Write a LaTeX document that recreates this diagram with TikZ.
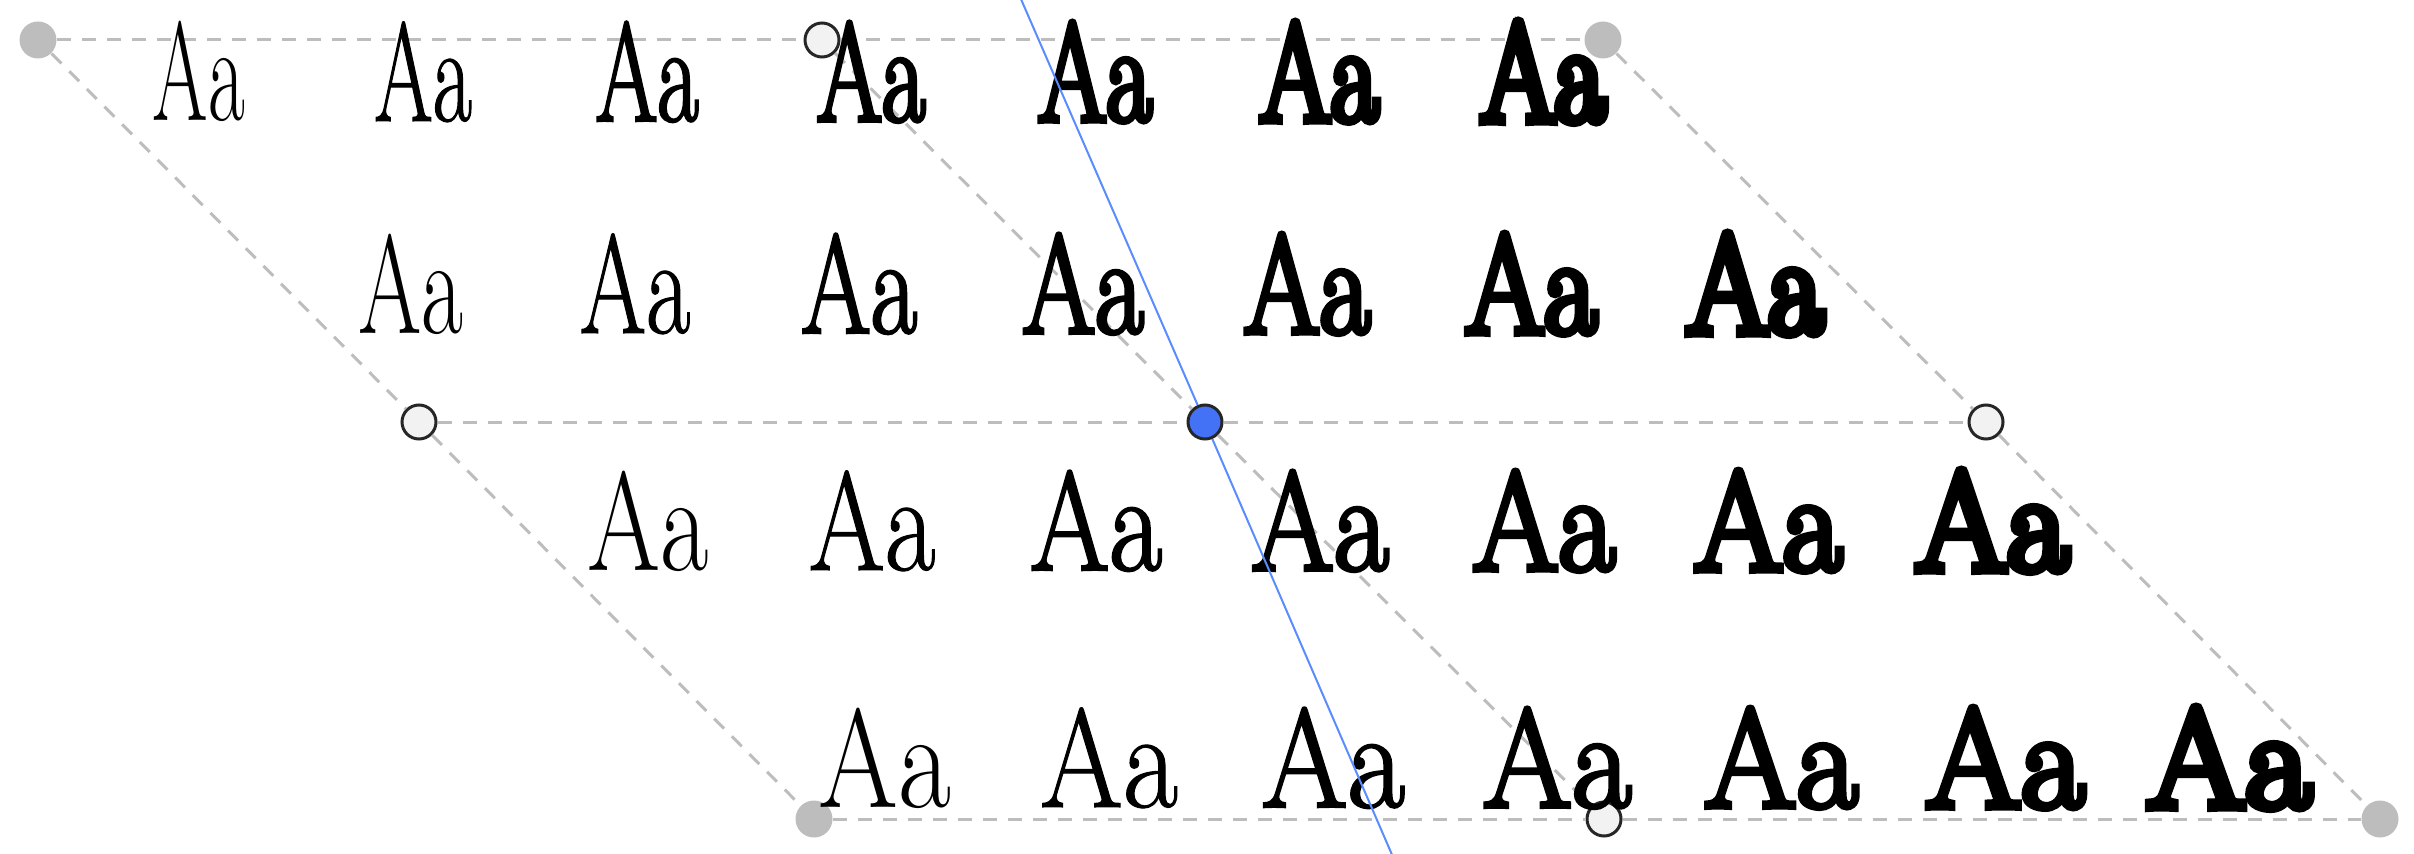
\documentclass[tikz,border=0pt]{standalone}
\usepackage{fontspec}
\usepackage{tikz}
\setmainfont{Latin Modern Roman}

\definecolor{guidegray}{HTML}{BDBDBD}
\definecolor{axisblue}{HTML}{5B8CFF}
\definecolor{dotblue}{HTML}{4472F7}

\begin{document}
\begin{tikzpicture}[x=0.1mm, y=-0.1mm,
    guide/.style={draw=guidegray, line width=0.3mm, dash pattern=on 1.4mm off 1.1mm},
    corner/.style={circle, fill=guidegray, inner sep=0pt, minimum size=3.7mm},
    handle/.style={circle, draw=black!85, fill=black!5, line width=0.3mm, inner sep=0pt, minimum size=3.4mm},
    sample/.style={anchor=base, inner sep=0pt, font=\fontsize{40}{40}\selectfont}
]
\useasboundingbox (0,0) rectangle (2414,854);

% grid points
\node[corner] (tl) at (38,40) {};
\node[handle] (tm) at (822,40) {};
\node[corner] (tr) at (1603,40) {};
\node[handle] (ml) at (419,422) {};
\node[handle, fill=dotblue] (mm) at (1205,422) {};
\node[handle] (mr) at (1986,422) {};
\node[corner] (bl) at (814,819) {};
\node[handle] (bm) at (1604,819) {};
\node[corner] (br) at (2380,819) {};

\draw[guide] (tl) -- (tm) -- (tr);
\draw[guide] (ml) -- (mm) -- (mr);
\draw[guide] (bl) -- (bm) -- (br);
\draw[guide] (tl) -- (ml) -- (bl);
\draw[guide] (tm) -- (mm) -- (bm);
\draw[guide] (tr) -- (mr) -- (br);

% samples: width grows downwards, weight grows to the right
\foreach \row/\base/\rw in {0/121/0.57, 1/333/0.65, 2/570/0.75, 3/807/0.82} {
  \foreach \col/\fb in {0/0, 1/0.8, 2/1.8, 3/3, 4/4.2, 5/5.5, 6/7} {
    \pgfmathsetmacro{\sx}{\rw + 0.033*\col}
    \pgfmathsetmacro{\xpos}{199 + 224*\col + \base - 121}
    \node[sample] (aa-\row-\col) at (\xpos, \base)
      {\edef\feat{\noexpand\addfontfeatures{FakeStretch=\sx, FakeBold=\fb}}\feat Aa};
  }
}

% axis through the selected point
\coordinate (axtop) at (1017,-10);
\coordinate (axbot) at (1396,864);
\draw[axisblue, line width=0.2mm] (axtop) -- (mm) -- (axbot);
\end{tikzpicture}
\end{document}
